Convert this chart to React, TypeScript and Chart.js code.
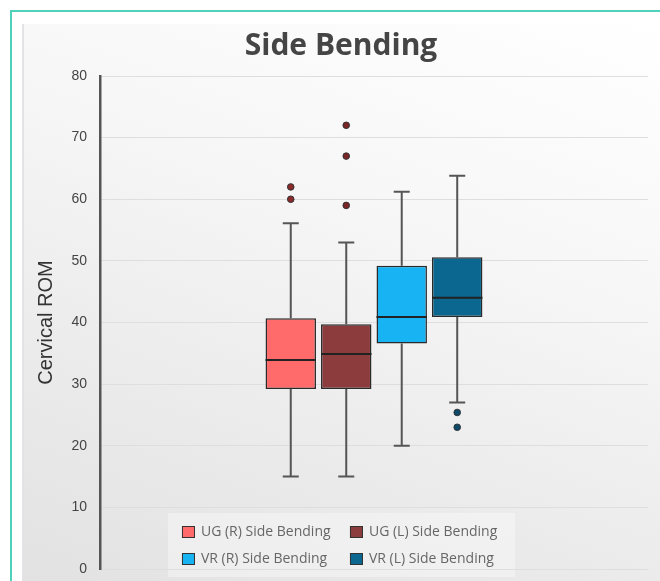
import React, { useEffect, useRef } from "react";
import { Chart, registerables } from "chart.js";

Chart.register(...registerables);

const categories = ["Side Bending"];
const seriesNames = [
  "UG (R) Side Bending",
  "UG (L) Side Bending",
  "VR (R) Side Bending",
  "VR (L) Side Bending",
];
const whiskerMin = [15, 15, 20, 27];
const q1 = [29.2, 29.2, 36.6, 40.9];
const medians = [33.9, 34.9, 40.9, 44.0];
const q3 = [40.7, 39.7, 49.2, 50.6];
const whiskerMax = [56.1, 53.0, 61.2, 63.8];
const outliers: number[][] = [[62, 60], [72, 67, 59], [], [25.4, 23]];
const yTicks = [0, 10, 20, 30, 40, 50, 60, 70, 80];

const boxColors = ["#ff6b6b", "#8c3c3c", "#17b3f2", "#0b6690"];
const dotColors = ["#8a2a2a", "#7a2626", "#0b4a6a", "#0b4a6a"];

const boxPlugin = {
  id: "boxParts",
  beforeDraw(chart: any) {
    const { ctx, chartArea } = chart;
    ctx.save();
    ctx.fillStyle = "rgba(255,255,255,0.35)";
    ctx.fillRect(chartArea.left + 68, chartArea.bottom - 56, 347, 64);
    ctx.restore();
  },
  beforeDatasetsDraw(chart: any) {
    const { ctx } = chart;
    const y = chart.scales.y;
    ctx.save();
    ctx.strokeStyle = "#555";
    ctx.lineWidth = 2;
    seriesNames.forEach((_, i) => {
      const el = chart.getDatasetMeta(i).data[0];
      if (!el) return;
      const x = el.x;
      const yMax = y.getPixelForValue(whiskerMax[i]);
      const yMin = y.getPixelForValue(whiskerMin[i]);
      const yQ1 = y.getPixelForValue(q1[i]);
      const yQ3 = y.getPixelForValue(q3[i]);
      ctx.beginPath();
      ctx.moveTo(x, yQ3);
      ctx.lineTo(x, yMax);
      ctx.moveTo(x, yQ1);
      ctx.lineTo(x, yMin);
      ctx.moveTo(x - 8, yMax);
      ctx.lineTo(x + 8, yMax);
      ctx.moveTo(x - 8, yMin);
      ctx.lineTo(x + 8, yMin);
      ctx.stroke();
    });
    ctx.restore();
  },
  afterDatasetsDraw(chart: any) {
    const { ctx } = chart;
    const y = chart.scales.y;
    ctx.save();
    seriesNames.forEach((_, i) => {
      const el = chart.getDatasetMeta(i).data[0];
      if (!el) return;
      const x = el.x;
      const w = el.width;
      const ym = y.getPixelForValue(medians[i]);
      ctx.strokeStyle = "#222";
      ctx.lineWidth = 2;
      ctx.beginPath();
      ctx.moveTo(x - w / 2, ym);
      ctx.lineTo(x + w / 2, ym);
      ctx.stroke();
      outliers[i].forEach((v) => {
        const yo = y.getPixelForValue(v);
        ctx.beginPath();
        ctx.arc(x, yo, 3.3, 0, Math.PI * 2);
        ctx.fillStyle = dotColors[i];
        ctx.fill();
        ctx.lineWidth = 1;
        ctx.strokeStyle = "#333";
        ctx.stroke();
      });
    });
    ctx.restore();
  },
  afterDraw(chart: any) {
    const { ctx, chartArea } = chart;
    ctx.save();
    ctx.font = '14px "Open Sans"';
    ctx.textBaseline = "middle";
    ctx.textAlign = "left";
    const cols = [chartArea.left + 82, chartArea.left + 250];
    const rows = [chartArea.bottom - 37, chartArea.bottom - 10];
    seriesNames.forEach((name, i) => {
      const sx = cols[i % 2];
      const sy = rows[Math.floor(i / 2)];
      ctx.fillStyle = boxColors[i];
      ctx.fillRect(sx, sy - 6, 13, 12);
      ctx.strokeStyle = "#333";
      ctx.lineWidth = 1;
      ctx.strokeRect(sx + 0.5, sy - 5.5, 12, 11);
      ctx.fillStyle = "#666";
      ctx.fillText(name, sx + 19, sy);
    });
    ctx.restore();
  },
};

export default function App() {
  const ref = useRef<HTMLCanvasElement | null>(null);
  useEffect(() => {
    if (!ref.current) return;
    const chart = new Chart(ref.current, {
      type: "bar",
      data: {
        labels: categories,
        datasets: seriesNames.map((name, i) => ({
          label: name,
          data: [[q1[i], q3[i]]] as any,
          backgroundColor: boxColors[i],
          borderColor: "#2a2a2a",
          borderWidth: 1.5,
          borderSkipped: false,
          categoryPercentage: 0.405,
          barPercentage: 0.909,
        })),
      },
      options: {
        responsive: false,
        animation: false,
        layout: { padding: { left: 34, right: 12, top: 0, bottom: 12 } },
        plugins: {
          legend: { display: false },
          tooltip: { enabled: false },
          title: {
            display: true,
            text: "Side Bending",
            color: "#454545",
            font: { family: "Open Sans", size: 30, weight: "bold" },
            padding: { top: 28, bottom: 12 },
          },
        },
        scales: {
          x: { display: false },
          y: {
            min: 0,
            max: 80,
            afterBuildTicks: (scale: any) => {
              scale.ticks = yTicks.map((v) => ({ value: v }));
            },
            ticks: {
              color: "#444",
              font: { family: "Liberation Sans", size: 14 },
              padding: 0,
            },
            grid: {
              color: "#dedede",
              lineWidth: 1,
              drawTicks: true,
              tickLength: 13,
              tickColor: "rgba(0,0,0,0)",
            },
            border: { display: true, color: "#555", width: 2.5 },
            title: {
              display: true,
              text: "Cervical ROM",
              color: "#333",
              font: { family: "Liberation Sans", size: 20 },
              padding: { top: 0, bottom: 13.4 },
            },
          },
        },
      },
      plugins: [boxPlugin],
    });
    return () => chart.destroy();
  }, []);

  return (
    <div
      style={{
        position: "fixed",
        left: 0,
        top: 0,
        width: 660,
        height: 581,
        overflow: "hidden",
        background: "#ffffff",
      }}
    >
      <div
        style={{
          position: "absolute",
          left: 10,
          top: 10,
          width: 660,
          height: 600,
          borderTop: "2px solid #4fd1bb",
          borderLeft: "2px solid #4fd1bb",
        }}
      />
      <div
        style={{
          position: "absolute",
          left: 22,
          top: 24,
          width: 640,
          height: 560,
          borderLeft: "2px solid #e3e3e6",
          background:
            "linear-gradient(200deg, #ffffff 0%, #f7f7f7 35%, #ebebeb 70%, #e2e2e2 100%)",
        }}
      />
      <canvas
        ref={ref}
        width={660}
        height={581}
        style={{ position: "absolute", left: 0, top: 0, width: 660, height: 581 }}
      />
    </div>
  );
}
